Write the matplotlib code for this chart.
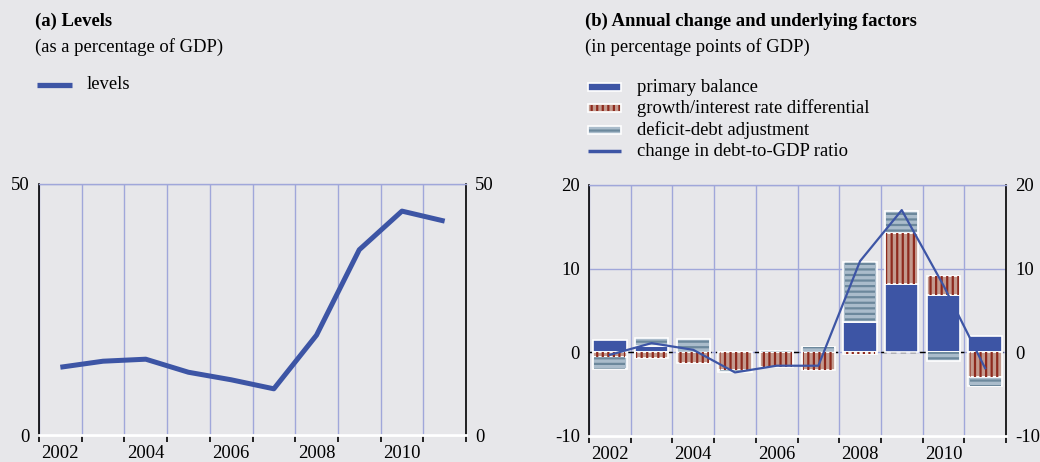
import matplotlib
matplotlib.use("Agg")
import matplotlib.pyplot as plt
from matplotlib.patches import Rectangle
from matplotlib.lines import Line2D
import numpy as np

years = [2002, 2003, 2004, 2005, 2006, 2007, 2008, 2009, 2010, 2011]
levels = [13.5, 14.7, 15.1, 12.5, 11.0, 9.2, 19.9, 36.9, 44.6, 42.6]
primary_balance = [1.5, 0.8, 0.0, 0.0, 0.0, 0.0, 3.6, 8.2, 6.8, 2.0]
growth_interest = [-0.5, -0.7, -1.3, -2.1, -1.7, -2.1, -0.2, 6.1, 2.3, -2.9]
deficit_debt = [-1.5, 0.9, 1.6, -0.3, 0.1, 0.6, 7.2, 2.6, -1.0, -1.1]
change_ratio = [-0.3, 1.1, 0.3, -2.4, -1.6, -1.6, 10.9, 17.0, 8.0, -1.9]
xtick_labels = ["2002", "2004", "2006", "2008", "2010"]

BG = "#E7E7EA"
BLUE = "#3D55A5"
RED_FACE = "#C39A8E"
RED_HATCH = "#8E2A1E"
GRAY_FACE = "#AABCCB"
GRAY_HATCH = "#6C889C"
GRID = "#A0A7DA"

plt.rcParams['font.family'] = ['Liberation Serif', 'DejaVu Serif']
plt.rcParams['hatch.linewidth'] = 1.6
FS = 13.4

fig = plt.figure(figsize=(10.4, 4.62), dpi=100, facecolor=BG)
W, H = 1040, 462

def fx(px):
    return px / W

def fy(py):
    return 1 - py / H

axL = fig.add_axes([fx(39), fy(435), fx(466) - fx(39), fy(184) - fy(435)])
axR = fig.add_axes([fx(589), fy(436), fx(1006) - fx(589), fy(185) - fy(436)])

x = np.array(years, dtype=float)
bounds = np.arange(years[0] - 0.5, years[-1] + 1.0, 1.0)
label_pos = [int(s) for s in xtick_labels]

def style_axis(ax, ylim, yticks):
    ax.set_facecolor(BG)
    ax.set_xlim(years[0] - 0.5, years[-1] + 0.5)
    ax.set_ylim(*ylim)
    ax.set_xticks(bounds)
    ax.set_xticklabels([])
    ax.set_xticks(label_pos, minor=True)
    ax.set_xticklabels(xtick_labels, minor=True, fontsize=FS)
    ax.tick_params(axis='x', which='major', direction='out', length=5, width=1.2, color='black')
    ax.tick_params(axis='x', which='minor', length=0, pad=7)
    ax.set_yticks(yticks)
    ax.set_yticklabels([str(v) for v in yticks], fontsize=FS)
    ax.tick_params(axis='y', length=0, left=False, right=False, labelleft=True, labelright=True, pad=6.5)
    ax.xaxis.grid(True, which='major', color=GRID, linewidth=1)
    ax.yaxis.grid(True, color=GRID, linewidth=1)
    ax.set_axisbelow(True)
    ax.spines['left'].set_color('black')
    ax.spines['right'].set_color('black')
    ax.spines['left'].set_linewidth(1.2)
    ax.spines['right'].set_linewidth(1.2)
    ax.spines['top'].set_color(GRID)
    ax.spines['top'].set_linewidth(1)
    ax.spines['bottom'].set_color('white')
    ax.spines['bottom'].set_linewidth(2)

# Left panel
style_axis(axL, (0, 50), [0, 50])
axL.plot(x, levels, color=BLUE, linewidth=3.6, solid_capstyle='butt', zorder=3)

# Right panel
style_axis(axR, (-10, 20), [-10, 0, 10, 20])
axR.axhline(0, color='black', linewidth=1, linestyle=(0, (4, 3)), zorder=1.5)

series = [
    (primary_balance, BLUE, None, None),
    (growth_interest, RED_FACE, RED_HATCH, '|||'),
    (deficit_debt, GRAY_FACE, GRAY_HATCH, '---'),
]
pos_base = np.zeros(len(years))
neg_base = np.zeros(len(years))
bw = 0.8
for vals, face, hcol, hatch in series:
    v = np.array(vals, dtype=float)
    bottoms = np.where(v >= 0, pos_base, neg_base)
    axR.bar(x, v, bottom=bottoms, width=bw, color=face, edgecolor='white', linewidth=1.2, zorder=2)
    if hatch:
        axR.bar(x, v, bottom=bottoms, width=bw - 0.06, color='none', edgecolor=hcol,
                linewidth=0, hatch=hatch, zorder=2.1)
    pos_base = pos_base + np.where(v >= 0, v, 0)
    neg_base = neg_base + np.where(v < 0, v, 0)

axR.plot(x, change_ratio, color=BLUE, linewidth=1.6, zorder=4)

# Titles
fig.text(fx(35), fy(21), "(a) Levels", fontsize=FS, fontweight='bold', va='center', ha='left')
fig.text(fx(35), fy(47), "(as a percentage of GDP)", fontsize=FS, va='center', ha='left')
fig.text(fx(585), fy(21), "(b) Annual change and underlying factors", fontsize=FS, fontweight='bold', va='center', ha='left')
fig.text(fx(585), fy(47), "(in percentage points of GDP)", fontsize=FS, va='center', ha='left')

# Left legend
fig.add_artist(Line2D([fx(37), fx(72)], [fy(85), fy(85)], color=BLUE, linewidth=3.8,
                      solid_capstyle='butt', transform=fig.transFigure))
fig.text(fx(87), fy(85), "levels", fontsize=FS, va='center', ha='left')

# Right legend
rows = [87, 108, 130, 151]
labels_r = ["primary balance", "growth/interest rate differential",
            "deficit-debt adjustment", "change in debt-to-GDP ratio"]
ph = 8
for (vals, face, hcol, hatch), ry in zip(series, rows[:3]):
    fig.add_artist(Rectangle((fx(588), fy(ry + ph / 2)), fx(621) - fx(588), ph / H,
                             transform=fig.transFigure, facecolor=face, edgecolor='white', linewidth=1.2))
    if hatch:
        fig.add_artist(Rectangle((fx(589), fy(ry + ph / 2 - 1)), fx(620) - fx(589), (ph - 2) / H,
                                 transform=fig.transFigure, facecolor='none', edgecolor=hcol,
                                 linewidth=0, hatch=hatch))
fig.add_artist(Line2D([fx(588), fx(621)], [fy(rows[3]), fy(rows[3])], color=BLUE, linewidth=2.5,
                      solid_capstyle='butt', transform=fig.transFigure))
for ry, lab in zip(rows, labels_r):
    fig.text(fx(637), fy(ry), lab, fontsize=FS, va='center', ha='left')

fig.savefig("out.png", dpi=100, facecolor=BG)
